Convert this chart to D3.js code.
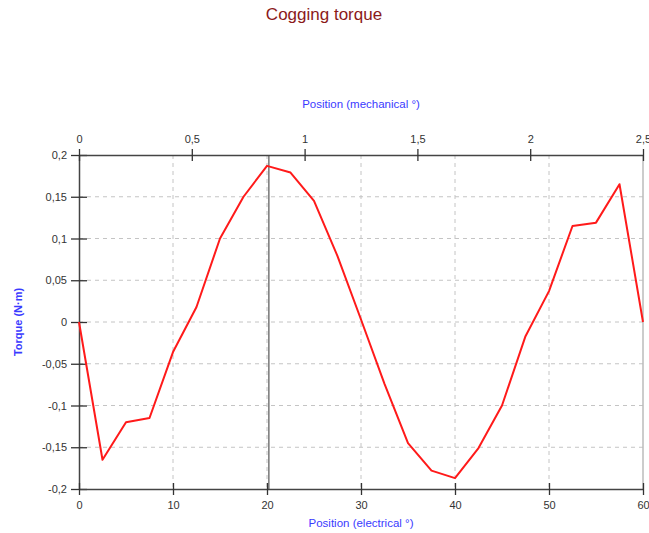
<!DOCTYPE html>
<html>
<head>
<meta charset="utf-8">
<script src="https://cdn.jsdelivr.net/npm/d3@7"></script>
<style>
  body { margin: 0; background: white; }
  svg { font-family: "Liberation Sans", Arial, sans-serif; }
</style>
</head>
<body>
<svg width="649" height="533"></svg>
<script>
// electrical position (deg) and cogging torque (N m)
var positions = [0, 2.5, 5, 7.5, 10, 12.5, 15, 17.5, 20, 22.5, 25, 27.5, 30,
                 32.5, 35, 37.5, 40, 42.5, 45, 47.5, 50, 52.5, 55, 57.5, 60];
var torque = [0, -0.165, -0.12, -0.115, -0.036, 0.018, 0.1, 0.15, 0.187, 0.179,
              0.145, 0.079, 0.003, -0.074, -0.145, -0.178, -0.187, -0.151, -0.1,
              -0.017, 0.037, 0.115, 0.119, 0.165, 0];

var elecTicks = [0, 10, 20, 30, 40, 50, 60];
var mechTicks = [0, 0.5, 1, 1.5, 2, 2.5];
var torqueTicks = [-0.2, -0.15, -0.1, -0.05, 0, 0.05, 0.1, 0.15, 0.2];
var cursorPos = 20.2;

var svg = d3.select("svg");

var margin = { top: 155, right: 6, bottom: 44, left: 79 };
var w = 649 - margin.left - margin.right,
    h = 533 - margin.top - margin.bottom;

var xS = d3.scaleLinear().domain([0, 60]).range([0, w]);
var xM = d3.scaleLinear().domain([0, 2.5]).range([0, w]);
var yS = d3.scaleLinear().domain([-0.2, 0.2]).range([h, 0]);

var fmt = function(d) { return String(d).replace(".", ","); };

var g = svg.append("g")
    .attr("transform", "translate(" + margin.left + "," + margin.top + ")");

// grid
g.selectAll(".hgrid")
    .data(torqueTicks.slice(1, -1))
    .enter().append("line")
    .attr("x1", 0).attr("x2", w)
    .attr("y1", d => yS(d)).attr("y2", d => yS(d))
    .attr("stroke", "#c4c4c4")
    .attr("stroke-dasharray", "4,4");

g.selectAll(".vgrid")
    .data(elecTicks.slice(1, -1))
    .enter().append("line")
    .attr("x1", d => xS(d)).attr("x2", d => xS(d))
    .attr("y1", 0).attr("y2", h)
    .attr("stroke", "#c4c4c4")
    .attr("stroke-dasharray", "4,4");

// right border
g.append("line")
    .attr("x1", w).attr("x2", w).attr("y1", 0).attr("y2", h)
    .attr("stroke", "#bbb").attr("stroke-width", 1.5);

// cursor
g.append("line")
    .attr("x1", xS(cursorPos)).attr("x2", xS(cursorPos))
    .attr("y1", 0).attr("y2", h)
    .attr("stroke", "#555").attr("stroke-width", 1.2);

function styleAxis(sel) {
    sel.select(".domain").attr("stroke", "#444").attr("stroke-width", 1.5);
    sel.selectAll(".tick line").attr("stroke", "#333").attr("stroke-width", 1.3);
    sel.selectAll(".tick text")
        .attr("fill", "#333")
        .style("font-size", "11px")
        .style("font-family", "Liberation Sans, Arial, sans-serif");
}

// left axis
var yAx = g.append("g")
    .call(d3.axisLeft(yS).tickValues(torqueTicks).tickFormat(fmt)
        .tickSize(8).tickSizeOuter(0).tickPadding(4));
yAx.selectAll(".tick line").attr("x2", 8).attr("x1", -8);
styleAxis(yAx);

// bottom axis
var xAx = g.append("g")
    .attr("transform", "translate(0," + h + ")")
    .call(d3.axisBottom(xS).tickValues(elecTicks).tickFormat(fmt)
        .tickSize(6).tickSizeOuter(0).tickPadding(6));
xAx.selectAll(".tick line").attr("y1", -6).attr("y2", 6);
styleAxis(xAx);

// top axis
var mAx = g.append("g")
    .call(d3.axisTop(xM).tickValues(mechTicks).tickFormat(fmt)
        .tickSize(6).tickSizeOuter(0).tickPadding(6));
mAx.selectAll(".tick line").attr("y1", 6).attr("y2", -6);
styleAxis(mAx);

// curve
var line = d3.line()
    .x((d, i) => xS(positions[i]))
    .y(d => yS(d));

g.append("path")
    .datum(torque)
    .attr("d", line)
    .attr("fill", "none")
    .attr("stroke", "#ff1a1a")
    .attr("stroke-width", 2)
    .attr("stroke-linejoin", "round");

// titles
svg.append("text")
    .attr("x", 324).attr("y", 20)
    .attr("text-anchor", "middle")
    .attr("fill", "#8b1a1a")
    .style("font-size", "17px")
    .text("Cogging torque");

svg.append("text")
    .attr("x", margin.left + w / 2).attr("y", 108)
    .attr("text-anchor", "middle")
    .attr("fill", "#3a3aff")
    .style("font-size", "11.5px")
    .text("Position (mechanical °)");

svg.append("text")
    .attr("x", margin.left + w / 2).attr("y", 527)
    .attr("text-anchor", "middle")
    .attr("fill", "#3a3aff")
    .style("font-size", "11.5px")
    .text("Position (electrical °)");

svg.append("text")
    .attr("transform", "translate(22," + (margin.top + h / 2) + ") rotate(-90)")
    .attr("text-anchor", "middle")
    .attr("fill", "#3a3aff")
    .style("font-size", "11px")
    .style("font-weight", "bold")
    .text("Torque (N·m)");
</script>
</body>
</html>
